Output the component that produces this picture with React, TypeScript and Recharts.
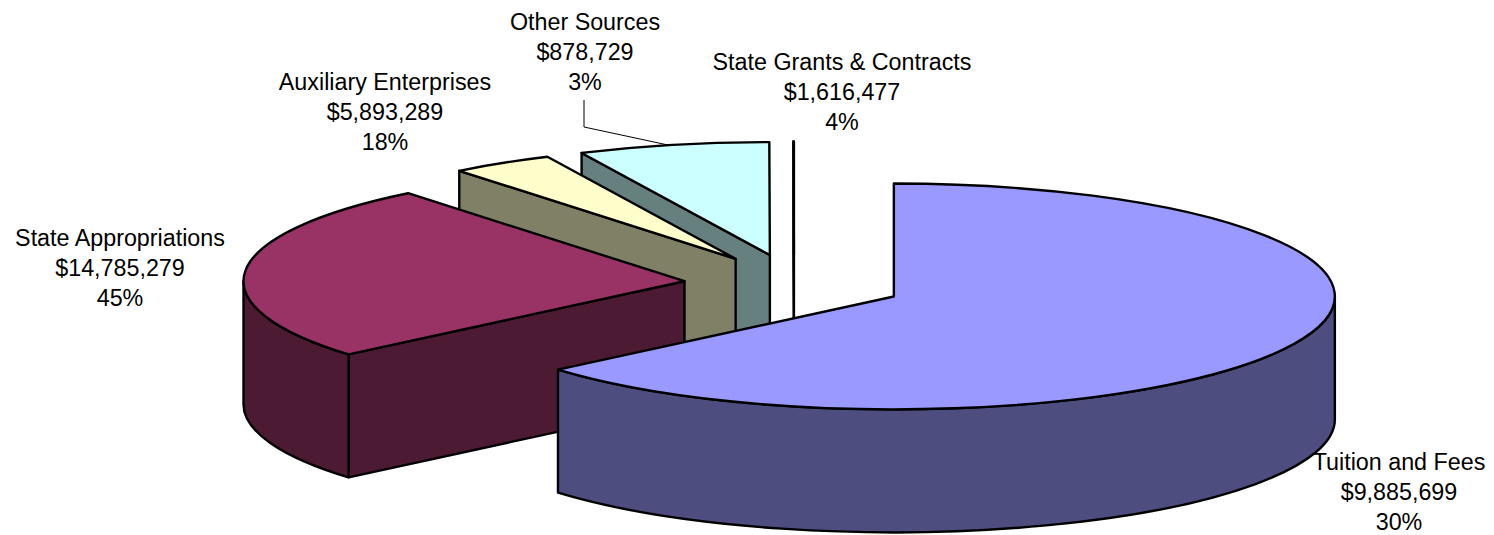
import { Pie, PieChart } from 'recharts';

// drawn back to front, counter-clockwise from 12 o'clock
const SOURCES = ['State Grants & Contracts', 'Other Sources', 'Auxiliary Enterprises', 'State Appropriations', 'Tuition and Fees'];
const AMOUNTS = ['$1,616,477', '$878,729', '$5,893,289', '$14,785,279', '$9,885,699'];
const PERCENTS = ['4%', '3%', '18%', '45%', '30%'];
// slice sizes as they appear in the picture, which do not follow the printed percents
const SLICE_SHARES = [0.02, 7.0, 3.76, 25.44, 63.78];
const TOP_COLORS = ['#ffffff', '#ccffff', '#ffffcc', '#993366', '#9999ff'];
const SIDE_COLORS = ['#808080', '#668080', '#808066', '#4d1a33', '#4d4d80'];
const LABEL_X = [842, 585, 385, 120, 1399];
const LABEL_Y = [70, 30, 90, 246, 470];

const data = SOURCES.map((name, i) => ({ name, value: SLICE_SHARES[i], index: i }));

const TILT = 0.256;
const EXPLODE_TILT = 0.27;
const DEPTH = 123;
const EXPLODE = 110;
const RAD = Math.PI / 180;

function Slice3D(props: any) {
  const { cx, cy, outerRadius: r, startAngle, endAngle, index } = props;
  const s = Math.min(startAngle, endAngle);
  const e = Math.max(startAngle, endAngle);
  const mid = ((s + e) / 2) * RAD;
  const ox = cx + EXPLODE * Math.cos(mid);
  const oy = cy - EXPLODE * EXPLODE_TILT * Math.sin(mid);
  const ry = r * TILT;
  const pt = (deg: number, drop = 0) =>
    `${ox + r * Math.cos(deg * RAD)} ${oy - ry * Math.sin(deg * RAD) + drop}`;
  const fill = SIDE_COLORS[index];
  const wall = (deg: number) => (
    <path d={`M${ox} ${oy}L${pt(deg)}L${pt(deg, DEPTH)}L${ox} ${oy + DEPTH}Z`} fill={fill} />
  );
  const a = Math.max(s, 180);
  const b = Math.min(e, 360);
  return (
    <g stroke="#000" strokeWidth={2.4} strokeLinejoin="round">
      {Math.cos(s * RAD) > 0.001 && wall(s)}
      {Math.cos(e * RAD) < -0.001 && wall(e)}
      {b > a && (
        <path
          d={`M${pt(a)}A${r} ${ry} 0 0 0 ${pt(b)}L${pt(b, DEPTH)}A${r} ${ry} 0 0 1 ${pt(a, DEPTH)}Z`}
          fill={fill}
        />
      )}
      <path
        d={`M${ox} ${oy}L${pt(s)}A${r} ${ry} 0 ${e - s > 180 ? 1 : 0} 0 ${pt(e)}Z`}
        fill={TOP_COLORS[index]}
      />
    </g>
  );
}

function SliceLabel({ index }: any) {
  const x = LABEL_X[index];
  const y = LABEL_Y[index];
  return (
    <g>
      {index === 1 && <path d="M584 100V127L668 145" fill="none" stroke="#000" strokeWidth={1} />}
      <text x={x} y={y} textAnchor="middle" fontFamily="Liberation Sans" fontSize={23.3} fill="#000">
        <tspan x={x}>{SOURCES[index]}</tspan>
        <tspan x={x} dy={30}>{AMOUNTS[index]}</tspan>
        <tspan x={x} dy={30}>{PERCENTS[index]}</tspan>
      </text>
    </g>
  );
}

export default function App() {
  return (
    <div style={{ position: 'absolute', left: 0, top: 0 }}>
      <PieChart width={1494} height={535} margin={{ top: 0, right: 0, bottom: 0, left: 0 }}>
        <Pie
          data={data}
          dataKey="value"
          nameKey="name"
          cx={794}
          cy={284}
          innerRadius={0}
          outerRadius={441}
          startAngle={90}
          endAngle={450}
          paddingAngle={0}
          stroke="none"
          shape={Slice3D}
          label={SliceLabel}
          labelLine={false}
          isAnimationActive={false}
        />
      </PieChart>
    </div>
  );
}
